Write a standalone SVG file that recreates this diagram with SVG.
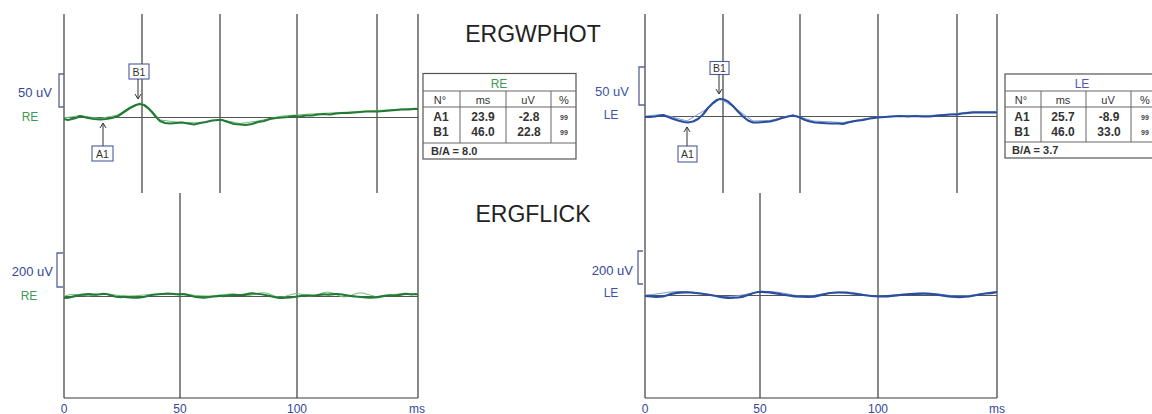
<svg xmlns="http://www.w3.org/2000/svg" width="1152" height="414" viewBox="0 0 1152 414">
<defs>
<marker id="ah" markerWidth="8" markerHeight="8" refX="6" refY="4" orient="auto" markerUnits="userSpaceOnUse">
<path d="M1,1 L6,4 L1,7" fill="none" stroke="#333" stroke-width="1"/>
</marker>
<style>
.grid{stroke:#3a3a3a;stroke-width:1.2;fill:none}
.base{stroke:#555;stroke-width:1;fill:none}
.brk{stroke:#5a649a;stroke-width:1.3;fill:none}
.lblb{font-family:"Liberation Sans",Arial,sans-serif;font-size:13px;fill:#34479a}
.lblg{font-family:"Liberation Sans",Arial,sans-serif;font-size:12px;fill:#3f9a55}
.lble{font-family:"Liberation Sans",Arial,sans-serif;font-size:12px;fill:#3a55a5}
.axis{font-family:"Liberation Sans",Arial,sans-serif;font-size:12px;fill:#34479a;text-anchor:middle}
.title{font-family:"Liberation Sans",Arial,sans-serif;font-size:23px;fill:#222;text-anchor:middle}
.gtr{stroke:#237a35;stroke-width:2.2;fill:none;stroke-linejoin:round}
.gtr2{stroke:#6fbf7c;stroke-width:1;fill:none}
.btr{stroke:#2a4e9e;stroke-width:2.2;fill:none;stroke-linejoin:round}
.btr2{stroke:#7d9ad0;stroke-width:1;fill:none}
.mbox{fill:#fff;stroke:#4a5aa0;stroke-width:1.1}
.mtxt{font-family:"Liberation Sans",Arial,sans-serif;font-size:10.5px;fill:#333;text-anchor:middle}
.arr{stroke:#333;stroke-width:1;fill:none}
.tb{fill:#fff;stroke:#555;stroke-width:1.2}
.tl{stroke:#666;stroke-width:1}
.th{font-family:"Liberation Sans",Arial,sans-serif;font-size:11px;fill:#333;text-anchor:middle}
.td{font-family:"Liberation Sans",Arial,sans-serif;font-size:12px;font-weight:bold;fill:#333;text-anchor:middle}
.tp{font-family:"Liberation Sans",Arial,sans-serif;font-size:7px;font-weight:bold;fill:#444;text-anchor:middle}
.tba{font-family:"Liberation Sans",Arial,sans-serif;font-size:11px;font-weight:bold;fill:#333}
</style>
</defs>
<rect width="1152" height="414" fill="#fff"/>

<g id="titles">
<text class="title" x="533" y="42">ERGWPHOT</text>
<text class="title" x="533" y="222">ERGFLICK</text>
</g>

<!-- LEFT PANEL (RE) -->
<g id="left-grid">
<line class="grid" x1="64" y1="14" x2="64" y2="398"/>
<line class="grid" x1="142" y1="14" x2="142" y2="193"/>
<line class="grid" x1="220" y1="14" x2="220" y2="193"/>
<line class="grid" x1="297" y1="14" x2="297" y2="398"/>
<line class="grid" x1="377" y1="14" x2="377" y2="193"/>
<line class="grid" x1="418" y1="14" x2="418" y2="398"/>
<line class="grid" x1="180" y1="193" x2="180" y2="398"/>
<line class="grid" x1="64" y1="398" x2="418" y2="398"/>
<line class="base" x1="64" y1="117.5" x2="418" y2="117.5"/>
<line class="base" x1="64" y1="296.5" x2="418" y2="296.5"/>
</g>
<g id="left-labels">
<path class="brk" d="M64,74 H59 V107 H64"/>
<text class="lblb" x="52" y="97" text-anchor="end">50 uV</text>
<text class="lblg" x="30" y="121" text-anchor="middle">RE</text>
<path class="brk" d="M63,253 H57 V287 H63"/>
<text class="lblb" x="53" y="276" text-anchor="end">200 uV</text>
<text class="lblg" x="29" y="300" text-anchor="middle">RE</text>
<text class="axis" x="64" y="413">0</text>
<text class="axis" x="180" y="413">50</text>
<text class="axis" x="297" y="413">100</text>
<text class="axis" x="417" y="413">ms</text>
</g>
<g id="left-traces">
<polyline class="gtr2" points="64,118 80,115.5 100,118.5 118,115 130,107 140,103 150,109 160,120 176,122 200,123 220,119.5 240,123.5 258,121 282,116 310,114 340,112.5 378,110.5 418,108"/>
<polyline class="gtr" points="64,119 68,120 72,119 76,118 80,116 84,117 88,118 94,119 100,119.5 106,119 112,118 118,116 124,112 130,108 136,105 140,104 144,105 148,108 152,112 156,117 160,121 165,123 170,123.5 176,123 182,122.5 188,123.5 194,124.5 200,123 206,122 212,120.5 218,120 222,120 228,122 234,124 240,124.5 246,125 252,124 258,122 264,121 270,119 276,118 282,117.5 288,117 294,116 300,116.5 306,115.5 312,115.5 318,114.5 324,114 330,114.5 336,113.5 342,113 348,113 354,112.5 360,112 366,111.5 372,111.5 378,111.5 384,111 390,110.5 396,110 402,109.5 408,109.5 414,109 418,109"/>
<path class="gtr2" d="M64,296 Q72,293 80,295 T96,295 T112,294.5 T128,296 T144,295 T160,294 T176,294 T192,295 T208,296 T224,294.5 T240,295 T256,294 T272,295 T288,295.5 T304,295 T320,294 T336,294.5 T352,295 T368,294.5 T384,296 T400,294 T418,294"/>
<path class="gtr" d="M64,298 C70,298 74,296 80,295 S88,293.5 94,294.5 S100,293 106,294 S114,297.5 122,297 S132,298.5 140,297.5 S148,295 156,294.5 S166,293 174,294 S182,293 188,295 S198,298 206,297.5 S216,295.5 222,296 S230,294 238,295 S246,293 254,293.5 S262,294 270,296 S280,298.5 290,297.5 S302,295 310,295.5 S318,294 326,294.5 S336,293 342,294.5 S350,296 356,296.5 S366,298 374,297.5 S384,295 392,295.5 S402,293 408,294 S414,293.5 418,294.5"/>
</g>
<g id="left-markers">
<rect class="mbox" x="129" y="64" width="20" height="15"/>
<text class="mtxt" x="139" y="75.5">B1</text>
<line class="arr" x1="138" y1="79" x2="138" y2="99" marker-end="url(#ah)"/>
<rect class="mbox" x="92" y="146" width="21" height="15"/>
<text class="mtxt" x="102.5" y="157.5">A1</text>
<line class="arr" x1="103" y1="146" x2="103" y2="123" marker-end="url(#ah)"/>
</g>
<g id="left-table">
<rect class="tb" x="423" y="73.5" width="153" height="85.5"/>
<line class="tl" x1="423" y1="91" x2="576" y2="91"/>
<line class="tl" x1="423" y1="107" x2="576" y2="107"/>
<line class="tl" x1="423" y1="143" x2="576" y2="143"/>
<line class="tl" x1="460" y1="91" x2="460" y2="143"/>
<line class="tl" x1="506" y1="91" x2="506" y2="143"/>
<line class="tl" x1="551" y1="91" x2="551" y2="143"/>
<text class="th" x="499" y="88" style="fill:#3f9a55;font-size:12px">RE</text>
<text class="th" x="440" y="104">N°</text>
<text class="th" x="483" y="104">ms</text>
<text class="th" x="528" y="104">uV</text>
<text class="th" x="564" y="104">%</text>
<text class="td" x="441" y="121">A1</text>
<text class="td" x="483" y="121">23.9</text>
<text class="td" x="529" y="121">-2.8</text>
<text class="tp" x="564" y="120">99</text>
<text class="td" x="441" y="136">B1</text>
<text class="td" x="483" y="136">46.0</text>
<text class="td" x="529" y="136">22.8</text>
<text class="tp" x="564" y="135">99</text>
<text class="tba" x="431" y="155">B/A = 8.0</text>
</g>

<!-- RIGHT PANEL (LE) -->
<g id="right-grid">
<line class="grid" x1="645" y1="14" x2="645" y2="398"/>
<line class="grid" x1="723" y1="14" x2="723" y2="193"/>
<line class="grid" x1="800" y1="14" x2="800" y2="193"/>
<line class="grid" x1="878" y1="14" x2="878" y2="398"/>
<line class="grid" x1="957" y1="14" x2="957" y2="193"/>
<line class="grid" x1="997" y1="14" x2="997" y2="398"/>
<line class="grid" x1="760" y1="193" x2="760" y2="398"/>
<line class="grid" x1="645" y1="398" x2="997" y2="398"/>
<line class="base" x1="645" y1="116.5" x2="997" y2="116.5"/>
<line class="base" x1="645" y1="295.5" x2="997" y2="295.5"/>
</g>
<g id="right-labels">
<path class="brk" d="M645,67 H639 V105 H645"/>
<text class="lble" x="629" y="96" text-anchor="end" style="font-size:13px">50 uV</text>
<text class="lble" x="611" y="119" text-anchor="middle">LE</text>
<path class="brk" d="M643,251 H638 V284 H643"/>
<text class="lblb" x="633" y="275" text-anchor="end">200 uV</text>
<text class="lble" x="611" y="297" text-anchor="middle">LE</text>
<text class="axis" x="645" y="413">0</text>
<text class="axis" x="760" y="413">50</text>
<text class="axis" x="878" y="413">100</text>
<text class="axis" x="997" y="413">ms</text>
</g>
<g id="right-traces">
<polyline class="btr2" points="645,116 663,114.5 687,121 705,110 720,98.5 735,108 753,121 770,120.5 793,115 813,121 843,122.5 863,119 878,117 900,115.5 930,115.5 957,113.5 973,111.5 997,111.5"/>
<polyline class="btr" points="645,117 650,117 655,116.5 660,115.5 663,115 667,116.5 672,118.5 678,120.5 684,122 688,122.5 693,121.5 698,119 703,114.5 708,108 713,103 717,100 720,99 724,99.5 728,101.5 733,106 738,111.5 743,116.5 748,120.5 753,122.5 758,122.5 764,122 770,121.5 776,120 782,118 788,116.5 793,115.5 797,116.5 800,117.5 805,120 810,121.5 815,122.5 822,123 830,123.5 838,123.5 843,124 848,122.5 855,121 863,120 870,118.5 878,117.5 885,117 892,116.5 900,116 908,116.5 915,116 922,116.5 930,116.5 938,115.5 945,115 951,114.5 957,114.5 962,113.5 968,113 973,112.5 980,112.5 986,112.5 992,112.5 997,112.5"/>
<path class="btr2" d="M645,295 C655,295 665,292 677,291.5 S700,293 712,295 S730,297 742,295 S756,291.5 768,291.5 S790,295 800,296 S820,294 832,292.5 S852,292 864,294.5 S882,296 894,295 S915,292.5 928,293 S950,296.5 962,296 S982,293 997,292"/>
<path class="btr" d="M645,296 C653,297 662,297.5 668,295 S680,292 690,292.5 S706,294 716,296 S728,298.5 738,297.5 S750,293 758,292 S772,292.5 782,294.5 S798,297 808,297 S822,294 830,293 S846,292.5 856,294 S870,296.5 880,296.5 S898,295 906,294.5 S922,293 932,294 S950,297.5 962,297 S978,294 986,293.5 S994,292.5 997,292"/>
</g>
<g id="right-markers">
<rect class="mbox" x="710" y="61.5" width="19" height="13"/>
<text class="mtxt" x="719.5" y="72">B1</text>
<line class="arr" x1="719" y1="74.5" x2="719" y2="94" marker-end="url(#ah)"/>
<rect class="mbox" x="678" y="146" width="19" height="16"/>
<text class="mtxt" x="687.5" y="158">A1</text>
<line class="arr" x1="687" y1="146" x2="687" y2="127" marker-end="url(#ah)"/>
</g>
<g id="right-table">
<rect class="tb" x="1005" y="74" width="154" height="84"/>
<line class="tl" x1="1005" y1="91" x2="1159" y2="91"/>
<line class="tl" x1="1005" y1="107" x2="1159" y2="107"/>
<line class="tl" x1="1005" y1="142" x2="1159" y2="142"/>
<line class="tl" x1="1041" y1="91" x2="1041" y2="142"/>
<line class="tl" x1="1086" y1="91" x2="1086" y2="142"/>
<line class="tl" x1="1131" y1="91" x2="1131" y2="142"/>
<text class="th" x="1082" y="88" style="fill:#5555b5;font-size:12px">LE</text>
<text class="th" x="1021" y="104">N°</text>
<text class="th" x="1063" y="104">ms</text>
<text class="th" x="1108" y="104">uV</text>
<text class="th" x="1145" y="104">%</text>
<text class="td" x="1022" y="121">A1</text>
<text class="td" x="1063" y="121">25.7</text>
<text class="td" x="1109" y="121">-8.9</text>
<text class="tp" x="1145" y="120">99</text>
<text class="td" x="1022" y="136">B1</text>
<text class="td" x="1063" y="136">46.0</text>
<text class="td" x="1109" y="136">33.0</text>
<text class="tp" x="1145" y="135">99</text>
<text class="tba" x="1012" y="154">B/A = 3.7</text>
</g>
</svg>
